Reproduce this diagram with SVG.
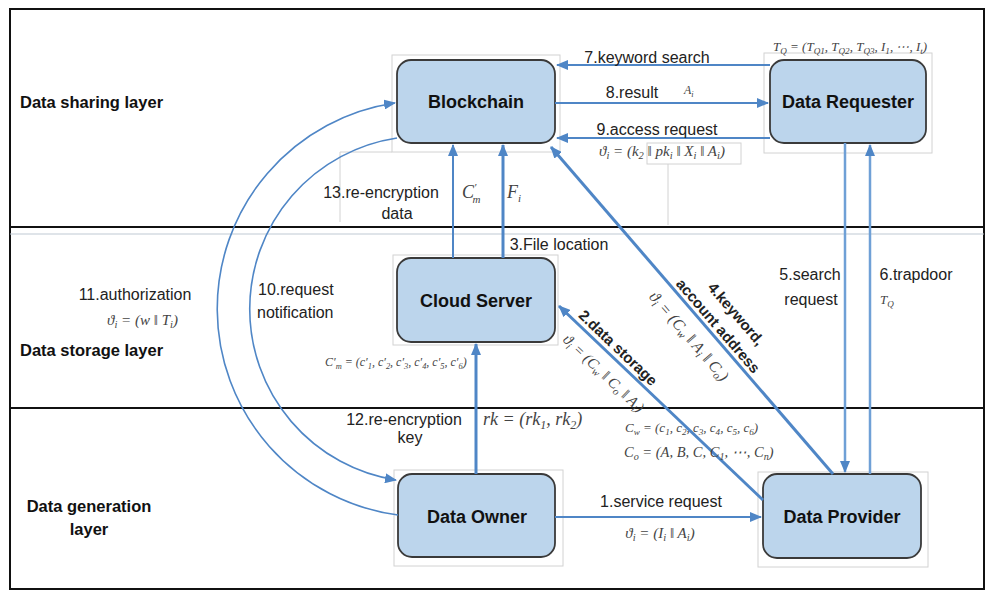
<svg xmlns="http://www.w3.org/2000/svg" width="987" height="592" viewBox="0 0 987 592">
<style>
.node rect.box{fill:#bcd5ec;stroke:#3a3a3a;stroke-width:1.8}
.frame{fill:none;stroke:#d2d2d2;stroke-width:1}
.nl{font-family:"Liberation Sans",Arial,sans-serif;font-weight:bold;font-size:18px;fill:#111;text-anchor:middle}
.ll{font-family:"Liberation Sans",Arial,sans-serif;font-weight:bold;font-size:16.5px;fill:#111}
.lb{font-family:"Liberation Sans",Arial,sans-serif;font-size:16px;fill:#222}
.rb{font-family:"Liberation Sans",Arial,sans-serif;font-weight:bold;font-size:15px;fill:#222;text-anchor:middle}
.m{font-family:"Liberation Serif","Times New Roman",serif;font-style:italic;fill:#444}
.s{font-size:70%}
.c{fill:none;stroke:#4f86c6;stroke-width:2}
.t{stroke-width:3}
.v{stroke:#6fa0d6;stroke-width:2.5}
.cv{fill:none;stroke:#4f86c6;stroke-width:1.6}
</style>
<defs>
<marker id="ah" markerUnits="userSpaceOnUse" markerWidth="12" markerHeight="10" refX="11" refY="5" orient="auto">
<path d="M0,0 L12,5 L0,10 z" fill="#4f86c6"/>
</marker>
</defs>
<rect width="987" height="592" fill="#fff"/>
<g id="layers">
<rect x="10" y="9" width="974" height="580" fill="none" stroke="#111" stroke-width="2"/>
<line x1="10" y1="227" x2="984" y2="227" stroke="#111" stroke-width="1.8"/>
<line x1="10" y1="234" x2="984" y2="234" stroke="#c0cad4" stroke-width="1.2"/>
<line x1="10" y1="408" x2="984" y2="408" stroke="#111" stroke-width="1.8"/>
<text class="ll" x="20" y="108">Data sharing layer</text>
<text class="ll" x="20" y="356">Data storage layer</text>
<text class="ll" x="89" y="512" text-anchor="middle">Data generation</text>
<text class="ll" x="89" y="535" text-anchor="middle">layer</text>
</g>
<g id="boxes">
<polyline class="frame" points="392,152 340,152 340,222"/>
<polyline class="frame" points="668,164 668,225"/>
<rect class="frame" x="647" y="143" width="94" height="21"/>
</g>
<g id="blockchain" class="node">
<rect class="frame" x="392" y="55" width="168" height="97"/>
<rect class="box" x="397" y="60" width="158" height="83" rx="14"/>
<text class="nl" x="476" y="108">Blockchain</text>
</g>
<g id="data-requester" class="node">
<rect class="frame" x="764" y="53" width="168" height="100"/>
<rect class="box" x="770" y="60" width="156" height="83" rx="14"/>
<text class="nl" x="848" y="108">Data Requester</text>
</g>
<g id="cloud-server" class="node">
<rect class="frame" x="393" y="255" width="165" height="90"/>
<rect class="box" x="397" y="258" width="158" height="84" rx="14"/>
<text class="nl" x="476" y="307">Cloud Server</text>
</g>
<g id="data-owner" class="node">
<rect class="frame" x="394" y="470" width="169" height="96"/>
<rect class="box" x="398" y="474" width="157" height="83" rx="14"/>
<text class="nl" x="477" y="523">Data Owner</text>
</g>
<g id="data-provider" class="node">
<rect class="frame" x="758" y="472" width="170" height="95"/>
<rect class="box" x="763" y="474" width="158" height="84" rx="14"/>
<text class="nl" x="842" y="523">Data Provider</text>
</g>
<g id="connectors">
<line class="c" x1="770" y1="65" x2="557" y2="65" marker-end="url(#ah)"/>
<line class="c" x1="555" y1="103" x2="768" y2="103" marker-end="url(#ah)"/>
<line class="c" x1="770" y1="138" x2="557" y2="138" marker-end="url(#ah)"/>
<line class="c" x1="453" y1="258" x2="453" y2="145" marker-end="url(#ah)"/>
<line class="c t" x1="503" y1="258" x2="503" y2="145" marker-end="url(#ah)"/>
<line class="c t" x1="833" y1="474" x2="551" y2="147" marker-end="url(#ah)"/>
<line class="c t" x1="763" y1="500" x2="559" y2="306" marker-end="url(#ah)"/>
<line class="c v" x1="845" y1="143" x2="845" y2="472" marker-end="url(#ah)"/>
<line class="c v" x1="870" y1="474" x2="870" y2="145" marker-end="url(#ah)"/>
<line class="c t" x1="476" y1="474" x2="476" y2="344" marker-end="url(#ah)"/>
<line class="c" x1="555" y1="517" x2="761" y2="517" stroke-width="2.5" marker-end="url(#ah)"/>
<path class="cv" d="M398,515 A208,208 0 0 1 395,103" marker-end="url(#ah)"/>
<path class="cv" d="M397,138 A173,173 0 0 0 396,480" marker-end="url(#ah)"/>
</g>
<g id="labels">
<text class="lb" x="647" y="63" text-anchor="middle">7.keyword search</text>
<text class="lb" x="632" y="98" text-anchor="middle">8.result</text>
<text class="m" x="684" y="94" font-size="12">A<tspan class="s" dy="3">i</tspan></text>
<text class="lb" x="657" y="135" text-anchor="middle">9.access request</text>
<text class="lb" x="381" y="198" text-anchor="middle">13.re-encryption</text>
<text class="lb" x="397" y="219" text-anchor="middle">data</text>
<text class="lb" x="559" y="250" text-anchor="middle">3.File location</text>
<text class="lb" x="258" y="295">10.request</text>
<text class="lb" x="257" y="318">notification</text>
<text class="lb" x="135" y="300" text-anchor="middle">11.authorization</text>
<text class="lb" x="404" y="425" text-anchor="middle">12.re-encryption</text>
<text class="lb" x="410" y="443" text-anchor="middle">key</text>
<text class="lb" x="661" y="507" text-anchor="middle">1.service request</text>
<text class="lb" x="810" y="280" text-anchor="middle">5.search</text>
<text class="lb" x="811" y="305" text-anchor="middle">request</text>
<text class="lb" x="916" y="280" text-anchor="middle">6.trapdoor</text>
<text class="rb" transform="translate(736,314) rotate(49.2)" y="5">4.keyword,</text>
<text class="rb" transform="translate(718,326) rotate(49.2)" y="5">account address</text>
<text class="rb" transform="translate(618,348) rotate(43.6)" y="5">2.data storage</text>
<text class="m" x="773" y="51" font-size="13">T<tspan class="s" dy="3">Q</tspan><tspan dy="-3"> = (T</tspan><tspan class="s" dy="3">Q1</tspan><tspan dy="-3">, T</tspan><tspan class="s" dy="3">Q2</tspan><tspan dy="-3">, T</tspan><tspan class="s" dy="3">Q3</tspan><tspan dy="-3">, I</tspan><tspan class="s" dy="3">1</tspan><tspan dy="-3">, ⋯, I</tspan><tspan class="s" dy="3">t</tspan><tspan dy="-3">)</tspan></text>
<text class="m" x="599" y="156" font-size="15">ϑ<tspan class="s" dy="3">i</tspan><tspan dy="-3"> = (k</tspan><tspan class="s" dy="3">2</tspan><tspan dy="-3"> ‖ pk</tspan><tspan class="s" dy="3">i</tspan><tspan dy="-3"> ‖ X</tspan><tspan class="s" dy="3">i</tspan><tspan dy="-3"> ‖ A</tspan><tspan class="s" dy="3">i</tspan><tspan dy="-3">)</tspan></text>
<text class="m" x="462" y="198" font-size="18">C<tspan font-size="11" dy="-7">′</tspan><tspan font-size="11" dx="-4" dy="12">m</tspan></text>
<text class="m" x="507" y="198" font-size="18">F<tspan font-size="11" dy="4">i</tspan></text>
<text class="m" x="107" y="325" font-size="15">ϑ<tspan class="s" dy="3">i</tspan><tspan dy="-3"> = (w ‖ T</tspan><tspan class="s" dy="3">i</tspan><tspan dy="-3">)</tspan></text>
<text class="m" x="325" y="366" font-size="12">C′<tspan class="s" dy="3">m</tspan><tspan dy="-3"> = (c′</tspan><tspan class="s" dy="3">1</tspan><tspan dy="-3">, c′</tspan><tspan class="s" dy="3">2</tspan><tspan dy="-3">, c′</tspan><tspan class="s" dy="3">3</tspan><tspan dy="-3">, c′</tspan><tspan class="s" dy="3">4</tspan><tspan dy="-3">, c′</tspan><tspan class="s" dy="3">5</tspan><tspan dy="-3">, c′</tspan><tspan class="s" dy="3">6</tspan><tspan dy="-3">)</tspan></text>
<text class="m" x="483" y="425" font-size="18">rk = (rk<tspan font-size="12" dy="4">1</tspan><tspan dy="-4">, rk</tspan><tspan font-size="12" dy="4">2</tspan><tspan dy="-4">)</tspan></text>
<text class="m" x="625" y="432" font-size="13">C<tspan class="s" dy="3">w</tspan><tspan dy="-3"> = (c</tspan><tspan class="s" dy="3">1</tspan><tspan dy="-3">, c</tspan><tspan class="s" dy="3">2</tspan><tspan dy="-3">, c</tspan><tspan class="s" dy="3">3</tspan><tspan dy="-3">, c</tspan><tspan class="s" dy="3">4</tspan><tspan dy="-3">, c</tspan><tspan class="s" dy="3">5</tspan><tspan dy="-3">, c</tspan><tspan class="s" dy="3">6</tspan><tspan dy="-3">)</tspan></text>
<text class="m" x="624" y="457" font-size="14.5">C<tspan class="s" dy="3">o</tspan><tspan dy="-3"> = (A, B, C, C</tspan><tspan class="s" dy="3">1</tspan><tspan dy="-3">, ⋯, C</tspan><tspan class="s" dy="3">n</tspan><tspan dy="-3">)</tspan></text>
<text class="m" x="660" y="538" font-size="15" text-anchor="middle">ϑ<tspan class="s" dy="3">i</tspan><tspan dy="-3"> = (I</tspan><tspan class="s" dy="3">i</tspan><tspan dy="-3"> ‖ A</tspan><tspan class="s" dy="3">i</tspan><tspan dy="-3">)</tspan></text>
<text class="m" x="880" y="304" font-size="13">T<tspan class="s" dy="3">Q</tspan></text>
<text class="m" transform="translate(603,374) rotate(43.6)" y="4" font-size="15" text-anchor="middle">ϑ<tspan class="s" dy="3">i</tspan><tspan dy="-3"> = (C</tspan><tspan class="s" dy="3">w</tspan><tspan dy="-3"> ‖ C</tspan><tspan class="s" dy="3">o</tspan><tspan dy="-3"> ‖ A</tspan><tspan class="s" dy="3">i</tspan><tspan dy="-3">)</tspan></text>
<text class="m" transform="translate(688,337) rotate(49.2)" y="4" font-size="16" text-anchor="middle">ϑ<tspan class="s" dy="3">i</tspan><tspan dy="-3"> = (C</tspan><tspan class="s" dy="3">w</tspan><tspan dy="-3"> ‖ A</tspan><tspan class="s" dy="3">i</tspan><tspan dy="-3"> ‖ C</tspan><tspan class="s" dy="3">o</tspan><tspan dy="-3">)</tspan></text>
</g>
</svg>
